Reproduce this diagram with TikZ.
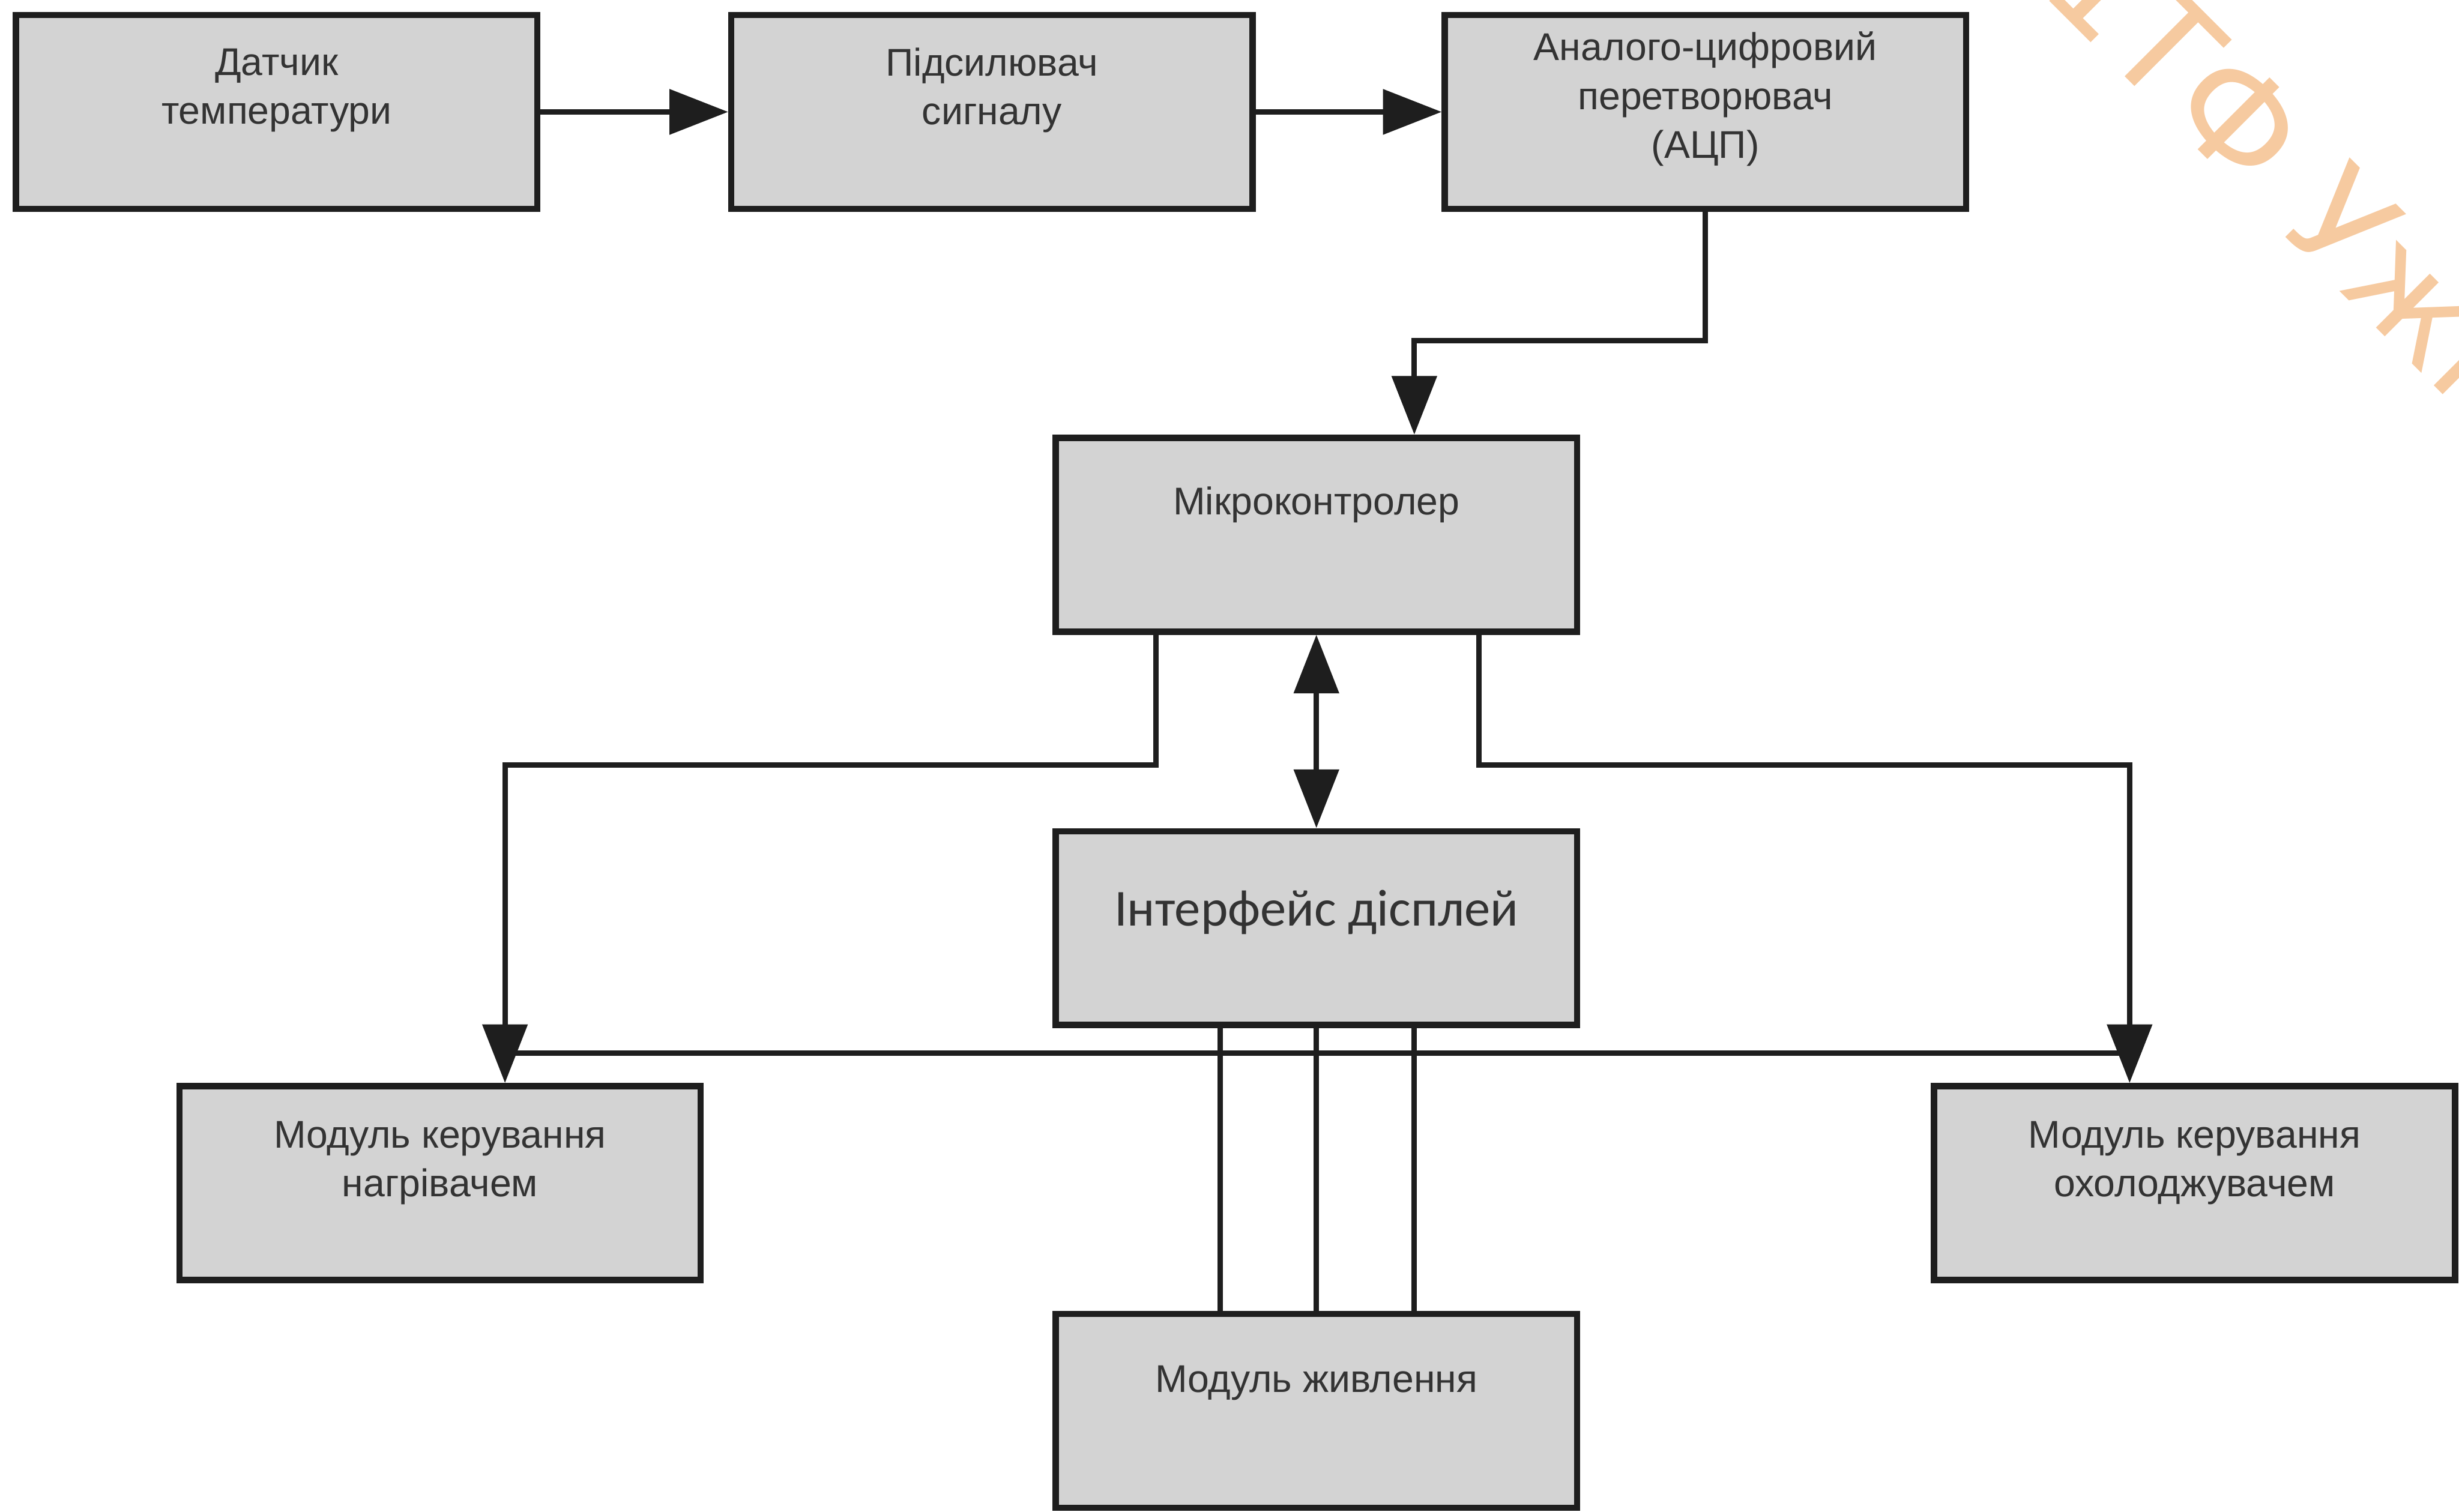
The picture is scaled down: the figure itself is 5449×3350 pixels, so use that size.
\documentclass[tikz,border=0pt]{standalone}
\usepackage{fontspec}
\setmainfont{Liberation Sans}
\newfontfamily\dispfont{Carlito}
\newfontfamily\markfont{DejaVu Sans}
\usetikzlibrary{arrows.meta,calc}

\definecolor{boxgray}{HTML}{D3D3D3}
\definecolor{edge}{HTML}{1E1E1E}
\definecolor{inkgray}{HTML}{333333}
\definecolor{stamp}{HTML}{F6CAA0}

\begin{document}
\begin{tikzpicture}[x=0.005cm, y=-0.005cm]
		\tikzset{block/.style = {shape=rectangle, draw=edge, line width=2pt, fill=boxgray, minimum width=5.78cm, minimum height=2.15cm, inner sep=0pt},
			txt/.style = {align=center, text=inkgray, inner sep=0pt, font=\fontsize{12.2}{15.4}\selectfont},
			>={Triangle[length=18.5pt, width=14pt]},
			wire/.style = {draw=edge, line width=1.7pt},
			link/.style = {wire, ->},
			twoway/.style = {wire, <->}}

		\useasboundingbox (0,0) rectangle (5449,3350);
		\clip (0,0) rectangle (5449,3350);

		\node[block, label={[txt, name=sensor-t, yshift=6.8pt]center:Датчик\\температури}] (sensor) at (613,248) {};
		\node[block, label={[txt, name=amp-t, yshift=6.8pt]center:Підсилювач\\сигналу}] (amp) at (2198,248) {};
		\node[block, label={[txt, name=adc-t, yshift=4.1pt]center:Аналого-цифровий\\перетворювач\\(АЦП)}] (adc) at (3779,248) {};

		\node[block, label={[txt, name=mcu-t, yshift=9.4pt]center:Мікроконтролер}] (mcu) at (2917,1185) {};
		\node[block, label={[txt, name=disp-t, yshift=5pt, font=\dispfont\fontsize{16.4}{19}\selectfont]center:Інтерфейс дісплей}] (disp) at (2917,2057) {};

		\node[block, label={[txt, name=heater-t, yshift=6.3pt]center:Модуль керування\\нагрівачем}] (heater) at (975,2622) {};
		\node[block, label={[txt, name=cooler-t, yshift=6.3pt]center:Модуль керування\\охолоджувачем}] (cooler) at (4863,2622) {};
		\node[block, label={[txt, name=power-t, yshift=8.8pt]center:Модуль живлення}] (power) at (2917,3127) {};

		\draw[link] (sensor) -- (amp);
		\draw[link] (amp) -- (adc);
		\draw[link] (adc.south) -- ++(0,285) -| ($(mcu.north)+(217,0)$);

		\draw[twoway] (mcu) -- (disp);
		\draw[link] ($(mcu.south)+(-356,0)$) -- ++(0,289) -| ($(heater.north)+(144,0)$);
		\draw[link] ($(mcu.south)+(360,0)$) -- ++(0,289) -| ($(cooler.north)+(-144,0)$);

		\draw[wire] ($(heater.north)+(144,-66)$) -- ($(cooler.north)+(-144,-66)$);
		\foreach \dx in {-213,0,217}
			\draw[wire] ($(disp.south)+(\dx,0)$) -- ($(power.north)+(\dx,0)$);

		\node[font=\markfont\fontsize{44}{50}\selectfont, text=stamp, rotate=-45, anchor=base west, inner sep=0pt] (stamp) at (4513,-26) {1ТФ Ужг};

	\end{tikzpicture}
\end{document}
